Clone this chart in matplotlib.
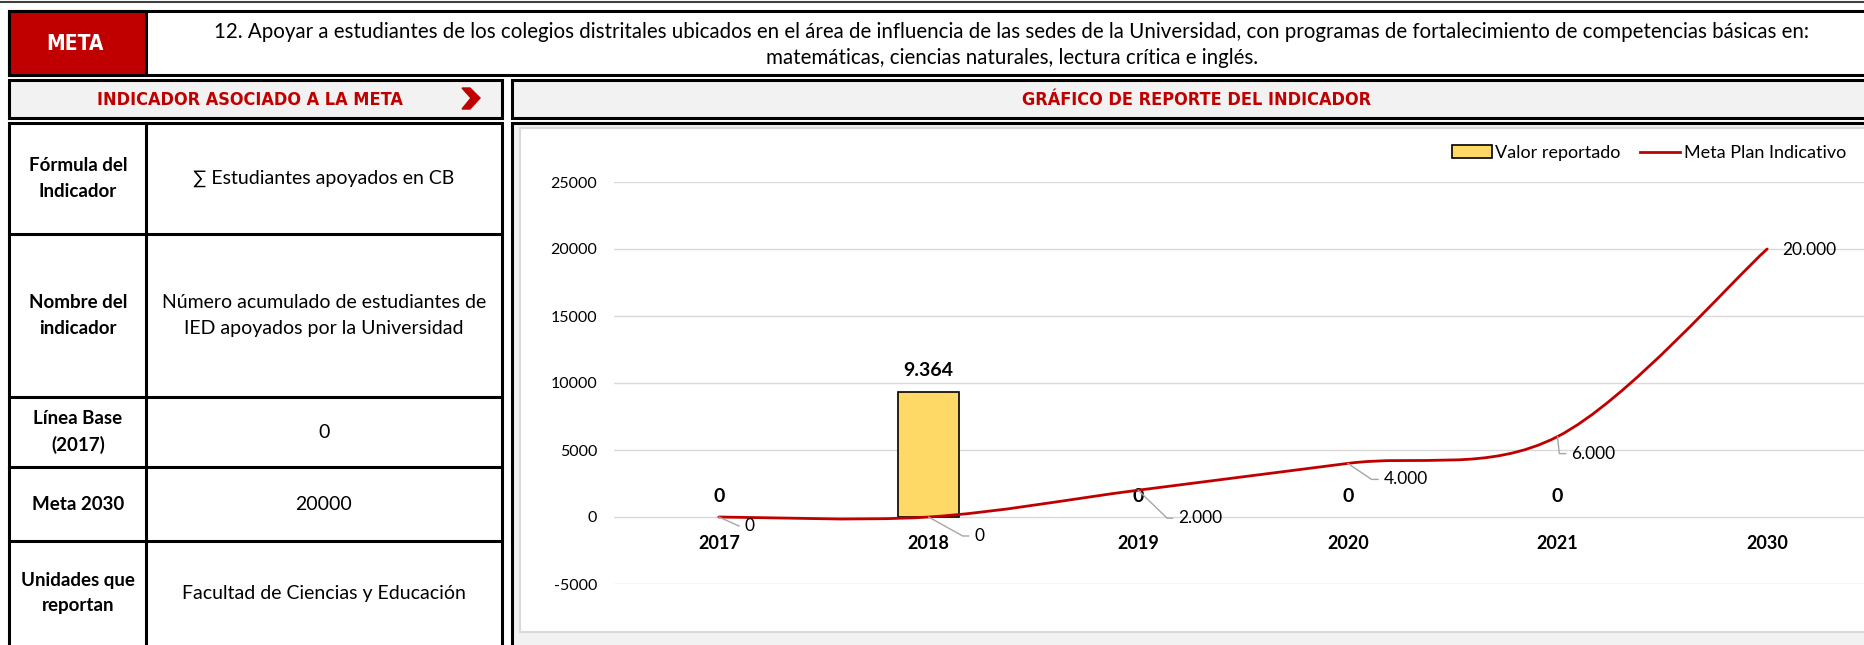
import numpy as np
from matplotlib import pyplot as plt
from matplotlib.lines import Line2D
from matplotlib.patches import PathPatch, Polygon, Rectangle
from matplotlib.path import Path

W, H = 1865, 645  # output size in pixels (dpi=100)

META_TEXT = ("12. Apoyar a estudiantes de los colegios distritales ubicados en el área de influencia de las sedes "
             "de la Universidad, con programas de fortalecimiento de competencias básicas en:\n"
             "matemáticas, ciencias naturales, lectura crítica e inglés.")

ROW_LABELS = ["Fórmula del\nIndicador", "Nombre del\nindicador", "Línea Base\n(2017)",
              "Meta 2030", "Unidades que\nreportan"]
ROW_VALUES = ["∑ Estudiantes apoyados en CB",
              "Número acumulado de estudiantes de\nIED apoyados por la Universidad",
              "0", "20000", "Facultad de Ciencias y Educación"]

YEARS = ["2017", "2018", "2019", "2020", "2021", "2030"]
VALOR_REPORTADO = [0, 9364, 0, 0, 0, np.nan]
META_PLAN = [0, 0, 2000, 4000, 6000, 20000]

RED = "#C00000"
YELLOW = "#FFD966"
PANEL = "#F2F2F2"
GRID = "#D9D9D9"
LEADER = "#A6A6A6"

HEADER = dict(family="DejaVu Sans", fontstretch="condensed", fontweight="bold")
BODY_FONT = ["Lato", "DejaVu Sans"]

plt.rcParams["font.family"] = BODY_FONT
plt.rcParams["axes.unicode_minus"] = False


def miles(v):
    # Excel style thousands separator: 20000 -> 20.000
    return f"{v:,.0f}".replace(",", ".")


def box(ax, x0, y0, x1, y1, fc="white", ec="black", lw=2.2):
    ax.add_patch(Rectangle((x0, y0), x1 - x0, y1 - y0, facecolor=fc, edgecolor=ec, linewidth=lw))


def smooth_path(xs, ys):
    # Catmull-Rom through the points, written as cubic Bezier segments (Excel "smoothed line")
    pts = np.column_stack([xs, ys]).astype(float)
    ext = np.vstack([pts[0], pts, pts[-1]])
    verts, codes = [pts[0]], [Path.MOVETO]
    for i in range(len(pts) - 1):
        p0, p1, p2, p3 = ext[i], ext[i + 1], ext[i + 2], ext[i + 3]
        verts += [p1 + (p2 - p0) / 6, p2 - (p3 - p1) / 6, p2]
        codes += [Path.CURVE4] * 3
    return Path(verts, codes)


def main():
    fig = plt.figure(figsize=(W / 100, H / 100), dpi=100)

    # --- Sheet layout (pixel coordinates, y down) ---
    bg = fig.add_axes([0, 0, 1, 1])
    bg.set_xlim(0, W)
    bg.set_ylim(H, 0)
    bg.axis("off")

    bg.plot([0, W], [1.5, 1.5], color="#404040", lw=1.5)

    box(bg, 9, 11, W + 5, 75)
    box(bg, 9, 11, 146, 75, fc=RED)
    bg.text(75, 44, "META", color="white", fontsize=15, ha="center", va="center", **HEADER)
    bg.text(1012, 45, META_TEXT, fontsize=14.8, ha="center", va="center", linespacing=1.4)

    box(bg, 9, 80, 502, 118, fc=PANEL)
    box(bg, 512, 80, W + 5, 118, fc=PANEL)
    bg.text(250, 100, "INDICADOR ASOCIADO A LA META", color=RED, fontsize=13,
            ha="center", va="center", **HEADER)
    bg.add_patch(Polygon([(462, 88), (470, 88), (480, 98), (470, 109), (462, 109), (471, 98)],
                         closed=True, color=RED))
    bg.text(1197, 100, "GRÁFICO DE REPORTE DEL INDICADOR", color=RED, fontsize=13,
            ha="center", va="center", **HEADER)

    # table of the indicator
    row_edges = [123, 234, 397, 467, 541, H + 5]
    box(bg, 9, 123, 502, H + 5)
    bg.plot([146, 146], [123, H + 5], color="black", lw=2.2)
    for y in row_edges[1:-1]:
        bg.plot([9, 502], [y, y], color="black", lw=2.2)
    for i, (label, value) in enumerate(zip(ROW_LABELS, ROW_VALUES)):
        yc = (row_edges[i] + min(row_edges[i + 1], H)) / 2
        bg.text(78, yc, label, fontsize=13.5, fontweight="bold", ha="center", va="center", linespacing=1.6)
        bg.text(324, yc, value, fontsize=14, ha="center", va="center", linespacing=1.6)

    # chart panel
    box(bg, 512, 123, W + 5, H + 5, fc=PANEL)
    box(bg, 520, 128, W + 5, 632, ec=GRID, lw=1.5)

    # --- Plot ---
    ax = fig.add_axes([614 / W, (H - 584) / H, 1258 / W, 402 / H])
    ax.patch.set_visible(False)
    x = np.arange(len(YEARS))

    bars = ax.bar(x, VALOR_REPORTADO, width=0.29, color=YELLOW, linewidth=1.2,
                  edgecolor=["black" if v > 0 else "none" for v in VALOR_REPORTADO])
    ax.bar_label(bars, labels=["" if np.isnan(v) else miles(v) for v in VALOR_REPORTADO],
                 padding=9, fontsize=14, fontweight="bold")

    ax.add_patch(PathPatch(smooth_path(x, META_PLAN), facecolor="none", edgecolor=RED, lw=2,
                           capstyle="round", zorder=3))

    leaders = [(26, -9, -24), (46, -19, -29), (40, -28, -44), (36, -16, -34), (14, -17, -84), (15, -1, None)]
    for xi, v, (dx, dy, ang) in zip(x, META_PLAN, leaders):
        arrow = None
        if ang is not None:
            arrow = dict(arrowstyle="-", color=LEADER, lw=1, shrinkA=2, shrinkB=0, relpos=(0, 0.5),
                         connectionstyle=f"angle,angleA=0,angleB={ang},rad=0")
        ax.annotate(miles(v), (xi, v), xytext=(dx, dy), textcoords="offset pixels",
                    ha="left", va="center", fontsize=12.5, arrowprops=arrow)

    ax.set_xlim(-0.5, len(YEARS) - 0.5)
    ax.set_ylim(-5000, 25000)
    ax.spines["bottom"].set_position(("data", 0))  # category labels hang under the 0 line
    for side in ["top", "right", "bottom", "left"]:
        ax.spines[side].set_visible(False)
    ax.set_yticks(range(-5000, 25001, 5000))
    ax.yaxis.set_major_formatter("{x:.0f}")
    ax.set_xticks(x, YEARS, fontsize=13, fontweight="bold")
    ax.tick_params(axis="x", length=0, pad=13)
    ax.tick_params(axis="y", length=0, pad=12, labelsize=11.5)
    ax.grid(axis="y", color=GRID, lw=1)
    ax.set_axisbelow(True)

    handles = [Rectangle((0, 0), 1, 1, facecolor=YELLOW, edgecolor="black", linewidth=1.2),
               Line2D([], [], color=RED, lw=2)]
    fig.legend(handles, ["Valor reportado", "Meta Plan Indicativo"], loc="center right",
               bbox_to_anchor=(1846 / W, 1 - 153 / H), ncol=2, frameon=False, fontsize=13,
               handlelength=2.2, handleheight=0.7, handletextpad=0.2, columnspacing=1.1,
               borderpad=0, borderaxespad=0)

    fig.savefig("out.png", dpi=100)
    print("Saved out.png")


main()
